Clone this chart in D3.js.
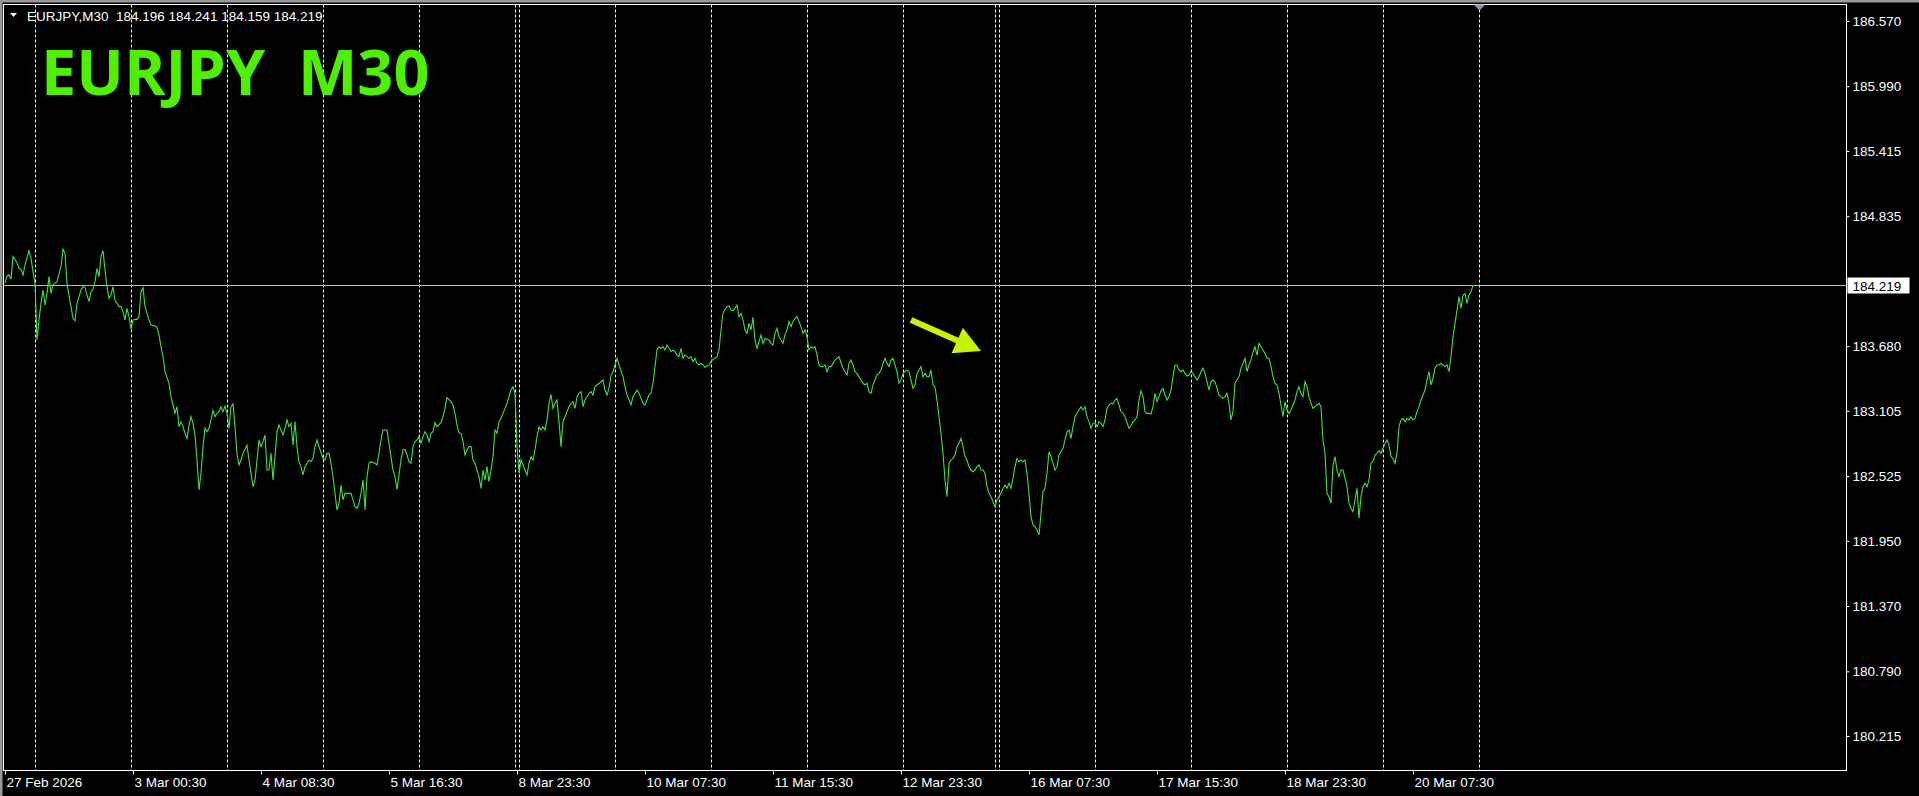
<!DOCTYPE html>
<html><head><meta charset="utf-8">
<script src="https://cdn.jsdelivr.net/npm/d3@7"></script>
<style>html,body{margin:0;padding:0;background:#000;overflow:hidden}svg text{white-space:pre}</style>
</head><body><svg id="chart" width="1919" height="796"></svg>
<script>
const symbol = "EURJPY";
const timeframe = "M30";
const ohlc = [184.196, 184.241, 184.159, 184.219];
const priceTicks = [186.570, 185.990, 185.415, 184.835, 183.680, 183.105, 182.525, 181.950, 181.370, 180.790, 180.215];
const timeLabels = ["27 Feb 2026","3 Mar 00:30","4 Mar 08:30","5 Mar 16:30","8 Mar 23:30","10 Mar 07:30","11 Mar 15:30","12 Mar 23:30","16 Mar 07:30","17 Mar 15:30","18 Mar 23:30","20 Mar 07:30"];
const timeLabelBars = [0,64,128,192,256,320,384,448,512,576,640,704];
const separatorBars = [15,63,111,159,207,255,257,305,353,401,449,495,497,545,593,641,689,737];
const shiftBar = 737;
const arrowFrom = [453, 183.912];
const arrowTo = [488, 183.637];
// [bar index, close]
const closes = [
[0,184.238],[1,184.304],[2,184.315],[3,184.274],[4,184.475],[6,184.422],[7,184.372],[8,184.363],[9,184.312],[10,184.401],
[12,184.529],[13,184.461],[14,184.342],[15,184.238],[16,183.735],[17,183.913],[18,184.061],[19,184.179],[20,184.046],[21,184.149],
[22,184.298],[23,184.149],[24,184.224],[25,184.238],[26,184.253],[28,184.386],[29,184.541],[30,184.505],[31,184.238],[33,184.031],
[34,183.927],[35,183.904],[36,184.061],[38,184.179],[39,184.209],[40,184.203],[41,184.135],[42,184.075],[43,184.164],[44,184.185],
[45,184.253],[46,184.372],[47,184.298],[48,184.475],[49,184.529],[50,184.357],[51,184.209],[52,184.105],[53,184.135],[54,184.209],
[55,184.090],[57,184.031],[58,184.031],[59,183.987],[60,183.913],[61,184.016],[62,183.942],[63,183.830],[64,183.913],[65,183.918],
[66,183.918],[67,183.942],[68,184.164],[69,184.200],[70,184.031],[72,183.913],[73,183.868],[75,183.859],[76,183.847],[77,183.779],
[78,183.675],[79,183.587],[80,183.453],[82,183.350],[83,183.231],[84,183.157],[85,183.083],[86,183.142],[87,182.964],[88,183.009],
[89,182.964],[90,182.905],[91,182.861],[92,182.979],[93,183.053],[94,182.994],[95,182.890],[96,182.668],[97,182.401],[98,182.550],
[99,182.787],[100,182.950],[101,182.920],[102,182.950],[103,183.024],[104,183.107],[105,183.053],[106,183.083],[107,183.098],[108,183.142],
[109,183.098],[110,183.148],[111,183.083],[112,182.950],[113,183.142],[114,183.166],[115,182.964],[116,182.727],[117,182.624],[118,182.668],
[119,182.727],[121,182.801],[122,182.668],[124,182.431],[125,182.490],[126,182.668],[127,182.846],[128,182.787],[129,182.831],[130,182.890],
[131,182.579],[132,182.579],[133,182.727],[134,182.490],[135,182.698],[136,182.920],[137,182.979],[138,182.935],[139,182.890],[140,182.950],
[141,183.024],[142,182.964],[143,182.994],[144,182.801],[145,183.009],[146,182.787],[147,182.653],[148,182.609],[149,182.535],[150,182.609],
[152,182.668],[153,182.653],[154,182.683],[155,182.787],[156,182.846],[157,182.787],[159,182.683],[160,182.668],[161,182.727],[162,182.727],
[163,182.639],[164,182.520],[165,182.372],[166,182.224],[167,182.283],[168,182.446],[169,182.313],[170,182.372],[171,182.372],[173,182.372],
[174,182.313],[175,182.253],[176,182.239],[177,182.283],[178,182.372],[179,182.490],[180,182.224],[181,182.520],[182,182.639],[183,182.653],
[185,182.639],[186,182.624],[187,182.727],[188,182.846],[189,182.935],[191,182.935],[192,182.816],[193,182.698],[194,182.579],[195,182.520],
[196,182.407],[197,182.535],[198,182.668],[199,182.757],[200,182.763],[201,182.713],[202,182.653],[203,182.639],[204,182.787],[205,182.831],
[206,182.846],[207,182.876],[208,182.816],[209,182.876],[210,182.920],[211,182.890],[212,182.831],[213,182.905],[214,182.920],[215,183.000],
[216,182.964],[218,183.000],[219,183.053],[220,183.127],[221,183.222],[223,183.187],[224,183.157],[225,183.083],[226,182.979],[227,182.911],
[228,182.905],[229,182.831],[230,182.713],[231,182.757],[232,182.787],[233,182.787],[234,182.668],[235,182.639],[236,182.579],[237,182.520],
[238,182.416],[239,182.579],[240,182.490],[241,182.609],[242,182.475],[243,182.579],[244,182.698],[245,182.935],[246,182.905],[247,183.009],
[248,183.038],[249,183.083],[250,183.127],[251,183.172],[252,183.231],[253,183.290],[254,183.320],[255,183.261],[256,182.787],[257,182.550],
[258,182.668],[259,182.624],[260,182.579],[261,182.535],[262,182.639],[263,182.698],[264,182.668],[265,182.757],[266,182.876],[267,182.964],
[268,182.935],[269,182.964],[270,182.935],[271,183.024],[272,183.172],[273,183.252],[274,183.127],[275,183.172],[276,183.201],[277,183.009],
[278,182.787],[279,183.009],[280,183.053],[281,183.098],[282,183.142],[283,183.172],[284,183.187],[285,183.127],[286,183.231],[287,183.261],
[288,183.276],[289,183.142],[290,183.201],[291,183.231],[292,183.261],[293,183.276],[294,183.246],[295,183.320],[296,183.335],[298,183.364],
[299,183.379],[300,183.290],[301,183.246],[302,183.305],[303,183.424],[304,183.453],[305,183.513],[306,183.572],[307,183.513],[309,183.409],
[310,183.320],[311,183.246],[312,183.201],[313,183.157],[314,183.231],[315,183.261],[316,183.290],[317,183.261],[318,183.216],[319,183.172],
[320,183.157],[321,183.201],[322,183.246],[323,183.261],[324,183.350],[325,183.498],[326,183.646],[327,183.675],[328,183.661],[329,183.675],
[330,183.646],[331,183.690],[332,183.661],[333,183.631],[334,183.646],[335,183.631],[336,183.601],[337,183.587],[338,183.661],[339,183.572],
[340,183.601],[341,183.587],[342,183.572],[343,183.587],[344,183.542],[345,183.572],[346,183.527],[347,183.513],[348,183.527],[349,183.513],
[350,183.492],[351,183.504],[352,183.513],[353,183.542],[354,183.563],[355,183.572],[356,183.587],[357,183.646],[358,183.824],[359,183.972],
[360,184.007],[361,184.031],[362,184.037],[363,184.001],[364,183.995],[365,184.016],[366,184.046],[367,183.942],[368,183.972],[369,183.913],
[370,183.824],[371,183.794],[372,183.883],[373,183.824],[374,183.936],[375,183.735],[376,183.661],[377,183.720],[378,183.779],[379,183.705],
[380,183.749],[382,183.735],[383,183.705],[384,183.690],[385,183.794],[386,183.838],[387,183.764],[388,183.735],[389,183.705],[390,183.779],
[391,183.824],[392,183.898],[393,183.853],[394,183.898],[395,183.927],[396,183.942],[397,183.898],[398,183.853],[399,183.794],[400,183.824],
[401,183.764],[402,183.646],[403,183.675],[404,183.661],[405,183.675],[406,183.601],[407,183.513],[408,183.498],[409,183.498],[410,183.513],
[411,183.453],[412,183.498],[413,183.498],[414,183.527],[415,183.557],[416,183.572],[417,183.587],[418,183.533],[419,183.483],[420,183.453],
[421,183.424],[422,183.527],[423,183.557],[424,183.513],[425,183.453],[426,183.438],[427,183.409],[428,183.379],[429,183.350],[430,183.335],
[431,183.350],[432,183.276],[433,183.261],[434,183.335],[435,183.379],[436,183.424],[437,183.438],[438,183.468],[439,183.527],[440,183.572],
[441,183.527],[442,183.498],[443,183.557],[444,183.572],[445,183.513],[446,183.453],[447,183.350],[448,183.379],[449,183.438],[450,183.453],
[451,183.468],[452,183.453],[453,183.379],[454,183.305],[455,183.335],[456,183.438],[457,183.468],[458,183.498],[459,183.409],[460,183.438],
[461,183.409],[462,183.409],[463,183.468],[464,183.335],[465,183.320],[466,183.201],[467,183.053],[468,182.905],[469,182.727],[470,182.490],
[471,182.342],[472,182.639],[473,182.668],[474,182.683],[475,182.713],[476,182.787],[477,182.816],[478,182.861],[479,182.787],[480,182.698],
[481,182.668],[482,182.609],[483,182.579],[484,182.564],[485,182.579],[486,182.609],[487,182.624],[488,182.579],[489,182.579],[490,182.550],
[491,182.431],[492,182.372],[493,182.342],[494,182.298],[495,182.253],[496,182.313],[497,182.342],[498,182.372],[499,182.416],[500,182.446],
[501,182.416],[502,182.461],[503,182.416],[504,182.505],[505,182.609],[506,182.683],[507,182.653],[508,182.668],[509,182.653],[510,182.668],
[511,182.550],[512,182.372],[513,182.164],[514,182.090],[515,182.076],[516,182.046],[517,182.002],[518,182.194],[519,182.387],[520,182.416],
[521,182.550],[522,182.742],[523,182.698],[524,182.639],[525,182.579],[526,182.609],[527,182.713],[528,182.742],[529,182.772],[530,182.846],
[531,182.920],[532,182.935],[533,182.861],[534,182.964],[535,183.053],[536,183.083],[537,183.113],[538,183.142],[539,183.113],[540,183.142],
[541,183.053],[542,183.009],[543,182.950],[544,182.994],[545,183.000],[546,182.964],[547,183.009],[548,182.994],[549,182.964],[550,183.024],
[551,183.127],[552,183.157],[553,183.172],[554,183.166],[555,183.201],[556,183.216],[558,183.098],[559,183.083],[560,183.053],[561,183.000],
[562,182.950],[563,182.970],[564,183.009],[565,183.024],[566,183.053],[567,183.201],[568,183.284],[569,183.231],[570,183.098],[571,183.083],
[572,183.083],[573,183.077],[574,183.142],[575,183.261],[576,183.187],[577,183.231],[578,183.284],[579,183.305],[580,183.246],[581,183.201],
[582,183.231],[583,183.290],[584,183.409],[585,183.513],[586,183.513],[587,183.468],[588,183.453],[589,183.468],[590,183.438],[591,183.415],
[592,183.424],[593,183.453],[594,183.438],[595,183.409],[596,183.379],[597,183.409],[598,183.453],[599,183.483],[600,183.438],[601,183.364],
[602,183.290],[603,183.364],[604,183.379],[605,183.364],[606,183.305],[607,183.246],[608,183.231],[609,183.216],[610,183.231],[611,183.261],
[612,183.172],[613,183.024],[614,183.098],[615,183.350],[616,183.379],[617,183.409],[618,183.483],[619,183.527],[620,183.572],[621,183.453],
[622,183.513],[623,183.557],[624,183.631],[625,183.675],[626,183.601],[627,183.705],[628,183.675],[629,183.646],[630,183.616],[631,183.572],
[632,183.572],[633,183.498],[634,183.409],[635,183.350],[636,183.335],[637,183.261],[638,183.157],[639,183.053],[640,183.187],[641,183.113],
[642,183.083],[643,183.113],[644,183.157],[645,183.201],[646,183.276],[647,183.320],[648,183.261],[649,183.231],[650,183.364],[651,183.320],
[652,183.231],[653,183.172],[654,183.127],[655,183.142],[656,183.157],[657,183.172],[658,183.142],[659,182.846],[660,182.727],[661,182.372],
[662,182.342],[663,182.283],[664,182.624],[665,182.698],[666,182.579],[667,182.520],[668,182.579],[669,182.579],[670,182.505],[671,182.431],
[672,182.283],[673,182.239],[674,182.209],[675,182.313],[676,182.416],[677,182.150],[678,182.342],[679,182.431],[680,182.461],[681,182.431],
[682,182.490],[683,182.639],[684,182.653],[685,182.713],[686,182.727],[687,182.751],[688,182.727],[689,182.772],[690,182.816],[691,182.846],
[692,182.801],[693,182.698],[694,182.683],[695,182.639],[696,182.727],[697,182.964],[698,183.024],[699,183.038],[700,183.009],[701,183.038],
[702,183.024],[703,183.053],[704,183.024],[705,183.038],[706,183.098],[707,183.142],[708,183.201],[709,183.246],[710,183.290],[711,183.379],
[712,183.453],[713,183.335],[714,183.394],[715,183.483],[716,183.513],[717,183.513],[718,183.527],[719,183.513],[720,183.498],[721,183.513],
[722,183.453],[723,183.587],[724,183.764],[725,183.883],[726,184.001],[727,184.120],[728,184.016],[729,184.135],[730,184.149],[731,184.061],
[732,184.135],[733,184.164],[734,184.219]
];

const W = 1919, H = 796;
const frame = {left: 3.5, top: 4.5, right: 1846.5, bottom: 770.5};
const x = d3.scaleLinear().domain([0, 920.5]).range([5, 1846]);
const y = d3.scaleLinear().domain([179.913, 186.721]).range([770, 4]);
const fmt = d3.format(".3f");
const uiFont = "'Liberation Sans', Arial, sans-serif";

const svg = d3.select("#chart");
svg.append("rect").attr("width", W).attr("height", H).attr("fill", "#000");
svg.append("rect").attr("x", 0).attr("y", 0).attr("width", W).attr("height", 2.5).attr("fill", "#9a9a9a");
svg.append("rect").attr("x", 0).attr("y", 0).attr("width", 2.5).attr("height", H).attr("fill", "#9a9a9a");

svg.append("g").selectAll("line").data(separatorBars).join("line")
  .attr("x1", d => Math.round(x(d)) + 0.5).attr("x2", d => Math.round(x(d)) + 0.5)
  .attr("y1", frame.top).attr("y2", frame.bottom)
  .attr("stroke", "#ffffff").attr("stroke-width", 1).attr("stroke-dasharray", "3,2");

const last = closes[closes.length - 1][1];
const ly = Math.floor(y(last)) + 0.5;
svg.append("line")
  .attr("x1", frame.left).attr("x2", frame.right).attr("y1", ly).attr("y2", ly)
  .attr("stroke", "#b8b8b8").attr("stroke-width", 1);

const line = d3.line().x(d => x(d[0])).y(d => y(d[1]));
svg.append("path").datum(closes).attr("d", line)
  .attr("fill", "none").attr("stroke", "#3fe03f").attr("stroke-width", 1.1);

svg.append("rect").attr("x", frame.left).attr("y", frame.top)
  .attr("width", frame.right - frame.left).attr("height", frame.bottom - frame.top)
  .attr("fill", "none").attr("stroke", "#ffffff").attr("stroke-width", 1);

const yAxis = d3.axisRight(y).tickValues(priceTicks).tickFormat(fmt).tickSize(3).tickPadding(3);
const gy = svg.append("g").attr("transform", `translate(${frame.right},0)`).call(yAxis);
gy.select(".domain").remove();
gy.selectAll(".tick line").attr("stroke", "#fff");
gy.selectAll(".tick text").attr("fill", "#fff").attr("font-family", uiFont).attr("font-size", 13.5);

svg.append("rect").attr("x", frame.right + 1).attr("y", ly - 8).attr("width", 62).attr("height", 16).attr("fill", "#fff");
svg.append("text").attr("x", frame.right + 6).attr("y", ly + 5).attr("fill", "#000")
  .attr("font-family", uiFont).attr("font-size", 13.5).text(fmt(last));

const xAxis = d3.axisBottom(x).tickValues(timeLabelBars).tickFormat((d, i) => timeLabels[i]).tickSize(4);
const gx = svg.append("g").attr("transform", `translate(0,${frame.bottom})`).call(xAxis);
gx.select(".domain").remove();
gx.selectAll(".tick line").attr("stroke", "#fff");
gx.selectAll(".tick text").attr("fill", "#fff").attr("font-family", uiFont).attr("font-size", 13.5)
  .attr("text-anchor", "start").attr("x", 1).attr("y", 16.5).attr("dy", 0);

const sx = Math.round(x(shiftBar)) + 0.5;
svg.append("path").attr("d", `M${sx - 6},${frame.top}L${sx + 6},${frame.top}L${sx},${frame.top + 6}Z`).attr("fill", "#8797a8");

svg.append("path").attr("d", "M10,13L17,13L13.5,17Z").attr("fill", "#fff");
svg.append("text").attr("x", 27).attr("y", 20.5).attr("fill", "#fff")
  .attr("font-family", uiFont).attr("font-size", 13.5)
  .text(`${symbol},${timeframe}  ${ohlc.map(fmt).join(" ")}`);

svg.append("text").attr("x", 41).attr("y", 95).attr("fill", "#4ef000")
  .attr("font-family", "'Open Sans', sans-serif").attr("font-weight", 700).attr("font-size", 63)
  .text(`${symbol}  ${timeframe}`);

const ax0 = x(arrowFrom[0]), ay0 = y(arrowFrom[1]), ax1 = x(arrowTo[0]), ay1 = y(arrowTo[1]);
const len = Math.hypot(ax1 - ax0, ay1 - ay0), ux = (ax1 - ax0) / len, uy = (ay1 - ay0) / len, nx = -uy, ny = ux;
const headL = 26, headW = 14, shaftW = 3;
const bx = ax1 - ux * headL, by = ay1 - uy * headL;
const pts = [
  [ax0 + nx * shaftW, ay0 + ny * shaftW], [bx + nx * shaftW, by + ny * shaftW], [bx + nx * headW, by + ny * headW],
  [ax1, ay1], [bx - nx * headW, by - ny * headW], [bx - nx * shaftW, by - ny * shaftW], [ax0 - nx * shaftW, ay0 - ny * shaftW]
];
svg.append("path").attr("d", "M" + pts.map(p => p.join(",")).join("L") + "Z").attr("fill", "#c6f500");
</script></body></html>
